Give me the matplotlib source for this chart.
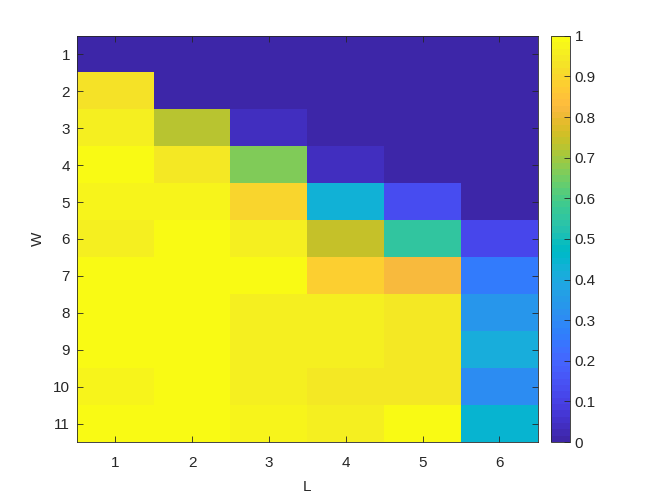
import numpy as np
from matplotlib import pyplot as plt
from matplotlib.colors import ListedColormap

# parula (64 entries)
parula_data = [
    [0.2422, 0.1504, 0.6603], [0.2504, 0.1650, 0.7076], [0.2578, 0.1818, 0.7511], [0.2647, 0.1978, 0.7952],
    [0.2706, 0.2147, 0.8364], [0.2751, 0.2342, 0.8710], [0.2783, 0.2559, 0.8991], [0.2803, 0.2782, 0.9221],
    [0.2813, 0.3006, 0.9414], [0.2810, 0.3228, 0.9579], [0.2795, 0.3447, 0.9717], [0.2760, 0.3667, 0.9829],
    [0.2699, 0.3892, 0.9906], [0.2602, 0.4123, 0.9952], [0.2440, 0.4358, 0.9988], [0.2206, 0.4603, 0.9973],
    [0.1963, 0.4847, 0.9892], [0.1834, 0.5074, 0.9798], [0.1786, 0.5289, 0.9682], [0.1764, 0.5499, 0.9520],
    [0.1687, 0.5703, 0.9359], [0.1540, 0.5902, 0.9218], [0.1460, 0.6091, 0.9079], [0.1380, 0.6276, 0.8973],
    [0.1248, 0.6459, 0.8883], [0.1113, 0.6635, 0.8763], [0.0952, 0.6798, 0.8598], [0.0689, 0.6948, 0.8394],
    [0.0297, 0.7082, 0.8163], [0.0036, 0.7203, 0.7917], [0.0067, 0.7312, 0.7660], [0.0433, 0.7411, 0.7394],
    [0.0964, 0.7500, 0.7120], [0.1408, 0.7584, 0.6842], [0.1717, 0.7670, 0.6554], [0.1938, 0.7758, 0.6251],
    [0.2161, 0.7843, 0.5923], [0.2470, 0.7918, 0.5567], [0.2906, 0.7973, 0.5188], [0.3406, 0.8008, 0.4789],
    [0.3909, 0.8029, 0.4354], [0.4456, 0.8024, 0.3909], [0.5044, 0.7993, 0.3480], [0.5616, 0.7942, 0.3045],
    [0.6174, 0.7876, 0.2612], [0.6720, 0.7793, 0.2227], [0.7242, 0.7698, 0.1910], [0.7738, 0.7598, 0.1646],
    [0.8203, 0.7498, 0.1535], [0.8634, 0.7406, 0.1596], [0.9035, 0.7330, 0.1774], [0.9393, 0.7288, 0.2100],
    [0.9728, 0.7298, 0.2394], [0.9956, 0.7434, 0.2371], [0.9970, 0.7659, 0.2199], [0.9952, 0.7893, 0.2028],
    [0.9892, 0.8136, 0.1885], [0.9786, 0.8386, 0.1766], [0.9676, 0.8639, 0.1643], [0.9610, 0.8890, 0.1537],
    [0.9597, 0.9135, 0.1423], [0.9628, 0.9373, 0.1265], [0.9691, 0.9606, 0.1064], [0.9769, 0.9839, 0.0805],
]
parula = ListedColormap(parula_data, name='parula')

L_vals = [1, 2, 3, 4, 5, 6]
W_vals = [1, 2, 3, 4, 5, 6, 7, 8, 9, 10, 11]

# rows = W, columns = L
row_w1 = [0.0, 0.0, 0.0, 0.0, 0.0, 0.0]
row_w2 = [0.93, 0.0, 0.0, 0.0, 0.0, 0.0]
row_w3 = [0.96, 0.73, 0.04, 0.0, 0.0, 0.0]
row_w4 = [1.0, 0.95, 0.66, 0.04, 0.0, 0.0]
row_w5 = [0.98, 0.98, 0.90, 0.43, 0.14, 0.0]
row_w6 = [0.96, 1.0, 0.96, 0.74, 0.56, 0.11]
row_w7 = [1.0, 1.0, 0.995, 0.88, 0.82, 0.26]
row_w8 = [0.99, 1.0, 0.96, 0.96, 0.95, 0.34]
row_w9 = [1.0, 1.0, 0.96, 0.96, 0.94, 0.41]
row_w10 = [0.97, 1.0, 0.96, 0.94, 0.95, 0.31]
row_w11 = [0.99, 1.0, 0.97, 0.96, 1.0, 0.44]

Z = np.array([row_w1, row_w2, row_w3, row_w4, row_w5, row_w6,
              row_w7, row_w8, row_w9, row_w10, row_w11])

plt.rcParams['font.family'] = ['Liberation Sans', 'DejaVu Sans']
plt.rcParams['font.size'] = 11
axc = (0.15, 0.15, 0.15)

fig = plt.figure(figsize=(6.64, 4.98), dpi=100)
ax = fig.add_axes([0.116, 0.1124, 0.694, 0.8156])
im = ax.imshow(Z, cmap=parula, vmin=0, vmax=1, aspect='auto', interpolation='nearest',
               extent=[0.5, len(L_vals) + 0.5, len(W_vals) + 0.5, 0.5])
ax.set_xticks(L_vals)
ax.set_yticks(W_vals)
ax.tick_params(direction='in', top=True, right=True, length=4, width=0.6, colors=axc, labelcolor=axc)
ax.tick_params(axis='x', pad=10)
ax.tick_params(axis='y', pad=5)
for s in ax.spines.values():
    s.set_color(axc)
    s.set_linewidth(0.6)
ax.set_xlabel('L', color=axc, labelpad=7)
ax.set_ylabel('W', color=axc, labelpad=6)

cax = fig.add_axes([0.830, 0.1124, 0.029, 0.8156])
cb = fig.colorbar(im, cax=cax, ticks=np.arange(0, 1.01, 0.1))
cb.set_ticklabels(['0', '0.1', '0.2', '0.3', '0.4', '0.5', '0.6', '0.7', '0.8', '0.9', '1'])
cax.tick_params(direction='in', length=4, width=0.6, colors=axc, labelcolor=axc, pad=3)
cb.outline.set_edgecolor(axc)
cb.outline.set_linewidth(0.6)

fig.savefig('out.png', dpi=100)
